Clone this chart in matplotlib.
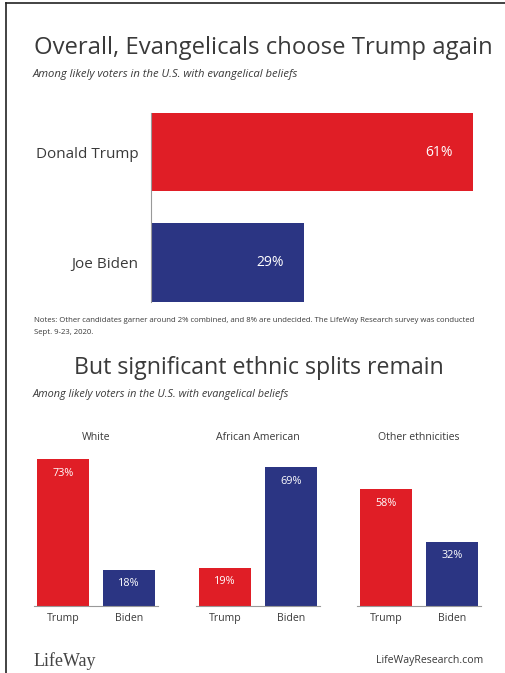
import matplotlib
matplotlib.use("Agg")
import matplotlib.pyplot as plt
from matplotlib.lines import Line2D

plt.rcParams['font.family'] = ['Open Sans', 'DejaVu Sans']

# ---- data ----
overall_candidates = ["Donald Trump", "Joe Biden"]
overall_values = [61, 29]

groups = ["White", "African American", "Other ethnicities"]
group_candidates = ["Trump", "Biden"]
trump_by_group = [73, 19, 58]
biden_by_group = [18, 69, 32]

RED = "#e01e26"
BLUE = "#2b3583"
TXT = "#3a3a3a"

W, H = 505, 673
fig = plt.figure(figsize=(W / 100, H / 100), dpi=100)
fig.patch.set_facecolor("white")

def fx(px):
    return px / W

def fy(py):
    return 1 - py / H

# border lines (top and left)
fig.add_artist(Line2D([fx(6), fx(505)], [fy(3), fy(3)], color="#222222", lw=1.2))
fig.add_artist(Line2D([fx(6), fx(6)], [fy(3), fy(673)], color="#222222", lw=1.2))

# ---- titles ----
fig.text(fx(263), fy(48), "Overall, Evangelicals choose Trump again", ha="center", va="center",
         fontsize=17.2, color=TXT)
fig.text(fx(33), fy(75), "Among likely voters in the U.S. with evangelical beliefs", ha="left",
         va="center", fontsize=8.1, style="italic", color=TXT)

# ---- top horizontal bar chart ----
ax_l, ax_r, ax_t, ax_b = 151, 473, 113, 302
ax1 = fig.add_axes([fx(ax_l), fy(ax_b), fx(ax_r - ax_l), (ax_b - ax_t) / H])
ypos = list(range(len(overall_candidates)))
cols = [RED, BLUE]
ax1.barh(ypos, overall_values, height=0.71, color=cols)
ax1.set_xlim(0, 61)
ax1.set_ylim(1.357, -0.355)
ax1.set_yticks(ypos)
ax1.set_yticklabels(overall_candidates, fontsize=11, color=TXT)
ax1.tick_params(axis="y", length=0, pad=9)
ax1.set_xticks([])
for s in ["top", "right", "bottom"]:
    ax1.spines[s].set_visible(False)
ax1.spines["left"].set_color("#999999")
ax1.spines["left"].set_linewidth(0.8)
for y, v in zip(ypos, overall_values):
    ax1.text(v - 6.5, y, f"{v}%", ha="center", va="center", color="white", fontsize=10)

# notes
fig.text(fx(34), fy(320), "Notes: Other candidates garner around 2% combined, and 8% are undecided. "
         "The LifeWay Research survey was conducted", ha="left", va="center", fontsize=5.6, color=TXT)
fig.text(fx(34), fy(332), "Sept. 9-23, 2020.", ha="left", va="center", fontsize=5.6, color=TXT)

# ---- second title ----
fig.text(fx(259), fy(368), "But significant ethnic splits remain", ha="center", va="center",
         fontsize=16.7, color=TXT)
fig.text(fx(33), fy(394), "Among likely voters in the U.S. with evangelical beliefs", ha="left",
         va="center", fontsize=7.8, style="italic", color=TXT)

# ---- bottom panels ----
panel_lefts = [34, 196, 357]
panel_w = 124
base_y = 606
px_per_pct = 2.01
ymax = 75
for i, g in enumerate(groups):
    ax = fig.add_axes([fx(panel_lefts[i]), fy(base_y), fx(panel_w), ymax * px_per_pct / H])
    vals = [trump_by_group[i], biden_by_group[i]]
    xs = [0, 1]
    ax.bar(xs, vals, width=0.79, color=[RED, BLUE])
    ax.set_xlim(-0.44, 1.44)
    ax.set_ylim(0, ymax)
    ax.set_yticks([])
    ax.set_xticks(xs)
    ax.set_xticklabels(group_candidates, fontsize=7.6, color=TXT)
    ax.tick_params(axis="x", length=0, pad=5)
    for s in ["top", "right", "left"]:
        ax.spines[s].set_visible(False)
    ax.spines["bottom"].set_color("#999999")
    ax.spines["bottom"].set_linewidth(0.8)
    for x, v in zip(xs, vals):
        ax.text(x, v - 7, f"{v}%", ha="center", va="center", color="white", fontsize=7.8)
    cx = panel_lefts[i] + panel_w / 2
    fig.text(fx(cx), fy(438), g, ha="center", va="center", fontsize=7.6, color=TXT)

# ---- footer ----
fig.text(fx(34), fy(661), "LifeWay", ha="left", va="center", fontsize=13,
         family=["Liberation Serif", "DejaVu Serif"], color="#444444")
fig.text(fx(483), fy(661), "LifeWayResearch.com", ha="right", va="center", fontsize=7.6, color=TXT)

fig.savefig("out.png", dpi=100, facecolor="white")
